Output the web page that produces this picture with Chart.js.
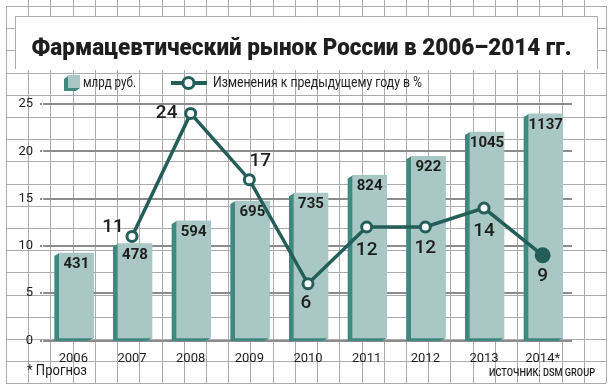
<!DOCTYPE html>
<html>
<head>
<meta charset="utf-8" />
<title>Фармацевтический рынок России в 2006–2014 гг.</title>
<script src="https://cdn.jsdelivr.net/npm/chart.js"></script>
<style>
    html, body { margin: 0; padding: 0; background: #fff; }
    #wrap { width: 616px; height: 391px; }
</style>
</head>
<body>
<div id="wrap"><canvas id="chart" width="616" height="391"></canvas></div>
<script>
// data
const years = ['2006', '2007', '2008', '2009', '2010', '2011', '2012', '2013', '2014*'];
const marketBlnRub = [431, 478, 594, 695, 735, 824, 922, 1045, 1137];   // млрд руб.
const changePct = [null, 11, 24, 17, 6, 12, 12, 14, 9];                 // % к предыдущему году
const yTicks = [0, 5, 10, 15, 20, 25];

const titleText = 'Фармацевтический рынок России в 2006–2014 гг.';
const legendBar = 'млрд руб.';
const legendLine = 'Изменения к предыдущему году в %';
const noteText = '* Прогноз';
const sourceText = 'ИСТОЧНИК: DSM GROUP';

// where each percent label sits around its point (dx, dy)
const pctLabelOffset = [null, [-19, -9], [-24, 0], [11, -18], [-2, 20], [0, 23], [0, 21], [0, 23], [0, 21]];

const faceColor = '#a8c7c5';
const sideColor = '#3f897f';
const lineColor = '#245e59';
const paperLine = '#ababab';
const textColor = '#1e1e1e';

// draws text squeezed/stretched to a given width
function fitText(ctx, text, x, y, width) {
    const w = ctx.measureText(text).width;
    ctx.save();
    ctx.translate(x, y);
    ctx.scale(width / w, 1);
    ctx.fillText(text, 0, 0);
    ctx.restore();
}

const paper = {
    id: 'paper',
    beforeDraw(chart) {
        const ctx = chart.ctx;
        ctx.save();
        ctx.fillStyle = '#fff';
        ctx.fillRect(0, 0, chart.width, chart.height);

        // graph paper
        ctx.strokeStyle = paperLine;
        ctx.lineWidth = 1;
        const x0 = 6, cellW = 600 / 27, y0 = 6, cellH = 377.3 / 17;
        ctx.beginPath();
        for (let i = 0; i <= 27; i++) {
            const x = Math.round(x0 + i * cellW) + 0.5;
            ctx.moveTo(x, i === 0 || i === 27 ? y0 : 0);
            ctx.lineTo(x, y0 + 17 * cellH);
        }
        for (let j = 0; j <= 17; j++) {
            const y = Math.round(y0 + j * cellH) + 0.5;
            ctx.moveTo(x0, y);
            ctx.lineTo(x0 + 27 * cellW, y);
        }
        ctx.stroke();

        // title box
        ctx.fillStyle = '#fff';
        ctx.fillRect(15, 16, 583, 54);
        ctx.beginPath();
        ctx.moveTo(15.5, 69);
        ctx.lineTo(15.5, 16.5);
        ctx.lineTo(597.5, 16.5);
        ctx.lineTo(597.5, 69);
        ctx.stroke();

        ctx.fillStyle = textColor;
        ctx.textBaseline = 'alphabetic';
        ctx.textAlign = 'left';
        ctx.font = '900 24px Roboto';
        fitText(ctx, titleText, 31.5, 55, 540);

        // legend
        ctx.fillStyle = sideColor;
        ctx.beginPath();
        ctx.moveTo(68, 76);
        ctx.lineTo(64, 79);
        ctx.lineTo(64, 91);
        ctx.lineTo(76, 91);
        ctx.lineTo(80, 88);
        ctx.lineTo(80, 76);
        ctx.closePath();
        ctx.fill();
        ctx.fillStyle = faceColor;
        ctx.fillRect(68, 75, 12, 13);

        ctx.strokeStyle = lineColor;
        ctx.lineWidth = 4;
        ctx.beginPath();
        ctx.moveTo(171, 83);
        ctx.lineTo(207, 83);
        ctx.stroke();
        ctx.lineWidth = 3;
        ctx.fillStyle = '#fff';
        ctx.beginPath();
        ctx.arc(188.5, 83, 5.5, 0, Math.PI * 2);
        ctx.fill();
        ctx.stroke();

        ctx.fillStyle = textColor;
        ctx.textBaseline = 'middle';
        ctx.font = '14px Roboto';
        fitText(ctx, legendBar, 83, 83.5, 53);
        fitText(ctx, legendLine, 213, 83.5, 209);

        // notes
        fitText(ctx, noteText, 27, 371.5, 60);
        ctx.font = '500 11px Roboto';
        fitText(ctx, sourceText, 489, 373.5, 106);
        ctx.restore();
    }
};

const bars3d = {
    id: 'bars3d',
    beforeDatasetDraw(chart, args) {
        if (args.index !== 0) return;
        const ctx = chart.ctx;
        ctx.save();
        ctx.translate(3, -2.5);
        ctx.fillStyle = sideColor;
        args.meta.data.forEach(bar => {
            const p = bar.getProps(['x', 'y', 'base', 'width'], true);
            const l = p.x - p.width / 2, r = p.x + p.width / 2;
            ctx.beginPath();
            ctx.moveTo(l, p.y);
            ctx.lineTo(l - 5, p.y + 3);
            ctx.lineTo(l - 5, p.base + 3);
            ctx.lineTo(r - 5, p.base + 3);
            ctx.lineTo(r, p.base);
            ctx.lineTo(r, p.y);
            ctx.closePath();
            ctx.fill();
        });
    },
    afterDatasetDraw(chart, args) {
        if (args.index !== 0) return;
        const ctx = chart.ctx;
        ctx.fillStyle = textColor;
        ctx.font = 'bold 15px Roboto';
        ctx.textAlign = 'center';
        ctx.textBaseline = 'middle';
        args.meta.data.forEach((bar, i) => {
            ctx.fillText(String(marketBlnRub[i]), bar.x, bar.y + 11);
        });
        ctx.restore();
    },
    afterDatasetsDraw(chart) {
        const ctx = chart.ctx;
        const meta = chart.getDatasetMeta(1);
        ctx.save();
        ctx.fillStyle = textColor;
        ctx.font = '500 19px Roboto';
        ctx.textAlign = 'center';
        ctx.textBaseline = 'middle';
        meta.data.forEach((pt, i) => {
            if (changePct[i] === null) return;
            const off = pctLabelOffset[i];
            ctx.fillText(String(changePct[i]), pt.x + off[0], pt.y + off[1]);
        });
        ctx.restore();
    }
};

new Chart(document.getElementById('chart'), {
    data: {
        labels: years,
        datasets: [{
            type: 'bar',
            label: legendBar,
            data: marketBlnRub,
            yAxisID: 'yRub',
            backgroundColor: faceColor,
            borderWidth: 0,
            barThickness: 34,
            clip: false,
            order: 2
        }, {
            type: 'line',
            label: legendLine,
            data: changePct,
            yAxisID: 'y',
            borderColor: lineColor,
            borderWidth: 3.5,
            tension: 0,
            pointRadius: changePct.map((v, i) => i === changePct.length - 1 ? 6.5 : 5),
            pointBorderWidth: 3,
            pointBorderColor: lineColor,
            pointBackgroundColor: changePct.map((v, i) => i === changePct.length - 1 ? lineColor : '#fff'),
            clip: false,
            order: 1
        }]
    },
    options: {
        responsive: false,
        animation: false,
        events: [],
        layout: { padding: { top: 104, right: 44, bottom: 20.5, left: 0 } },
        plugins: {
            legend: { display: false },
            title: { display: false },
            tooltip: { enabled: false }
        },
        scales: {
            x: {
                type: 'category',
                grid: { display: false, drawTicks: false },
                border: { display: false },
                ticks: { color: textColor, font: { family: 'Roboto', size: 13 }, padding: 10 },
                afterFit(scale) { scale.height = 30; }
            },
            y: {
                type: 'linear',
                min: 0,
                max: 25,
                afterBuildTicks(scale) { scale.ticks = yTicks.map(v => ({ value: v })); },
                grid: {
                    color: '#8c8c8c',
                    lineWidth: 2,
                    borderDash: [2, 1.2],
                    tickLength: 4,
                    tickColor: '#8c8c8c',
                    tickWidth: 2,
                    tickBorderDash: [2, 1.2]
                },
                border: { display: false },
                ticks: { color: textColor, font: { family: 'Roboto', size: 13 }, padding: 7 },
                afterFit(scale) { scale.width = 44; }
            },
            yRub: {
                type: 'linear',
                display: false,
                min: 0,
                max: 1200
            }
        }
    },
    plugins: [paper, bars3d]
});
</script>
</body>
</html>
